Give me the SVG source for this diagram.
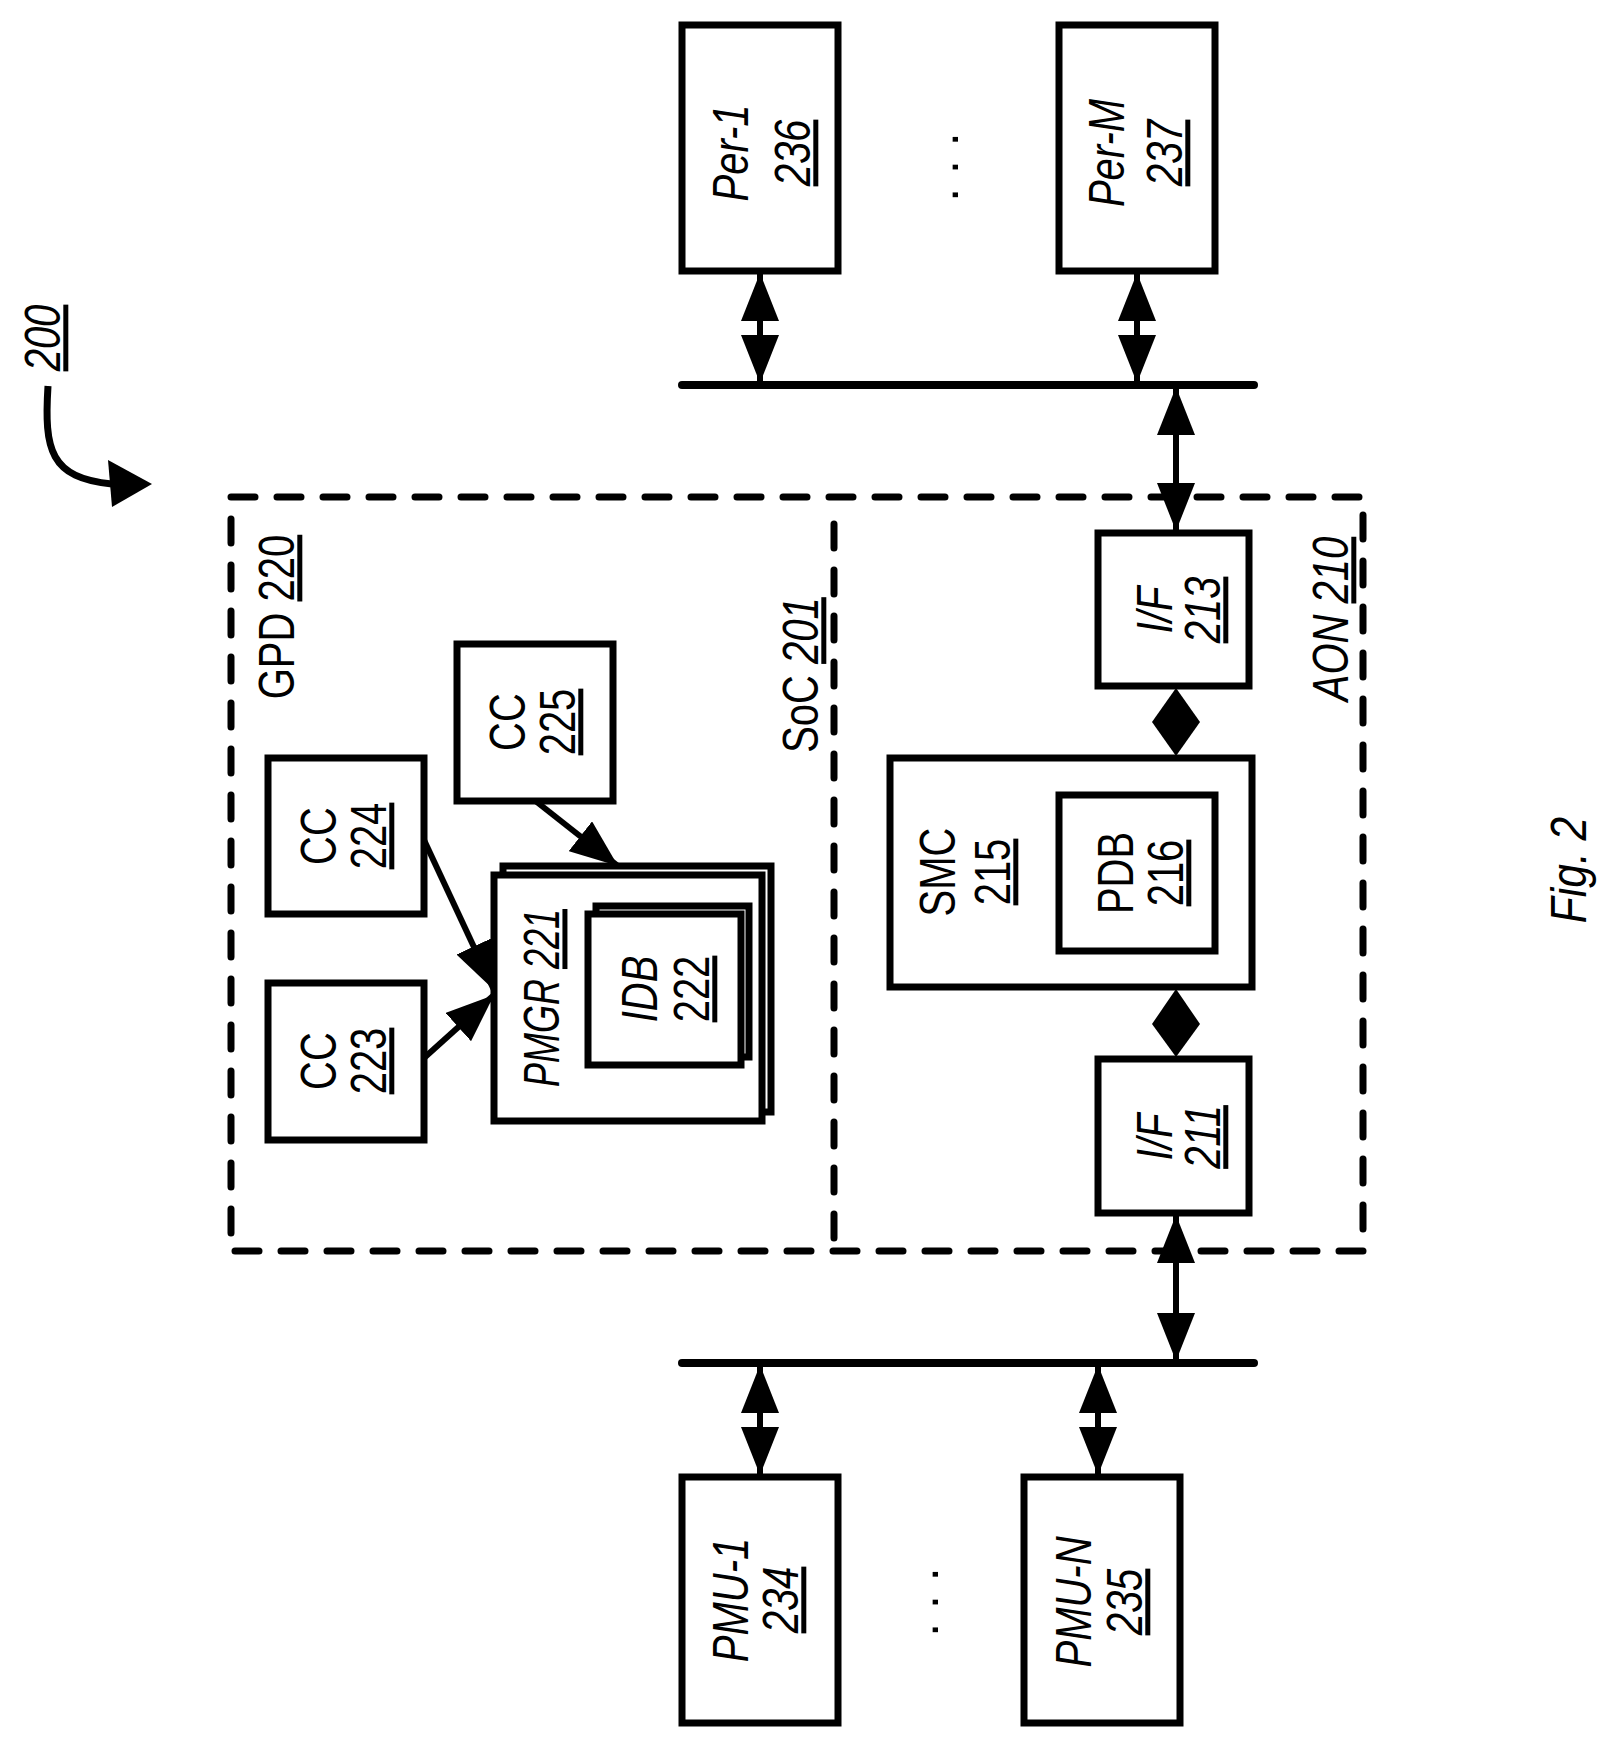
<svg xmlns="http://www.w3.org/2000/svg" width="1606" height="1738" viewBox="0 0 1606 1738">
<style>
.b{fill:#fff;stroke:#000;stroke-width:7}
.d{fill:none;stroke:#000;stroke-width:7;stroke-dasharray:24 22;stroke-linecap:round}
.l{stroke:#000;stroke-width:6;fill:none}
.bus{stroke:#000;stroke-width:8;stroke-linecap:round}
text{font-family:"Liberation Sans",Arial,sans-serif;font-size:50px;text-anchor:middle;fill:#000}
.i{font-style:italic}
.u{text-decoration:underline}
</style>
<defs>
<marker id="a" viewBox="0 0 48 38" refX="48" refY="19" markerWidth="48" markerHeight="38" markerUnits="userSpaceOnUse" orient="auto-start-reverse"><path d="M0,0L48,19L0,38Z"/></marker>
</defs>
<rect x="0" y="0" width="1606" height="1738" fill="#fff"/>
<g id="regions">
<path class="d" d="M231,497H1363V1251H231Z"/>
<path class="d" d="M834,524V1251"/>
<text transform="translate(294,617) rotate(-90) scale(0.8,1)">GPD <tspan class="u">220</tspan></text>
<text transform="translate(818,675) rotate(-90) scale(0.8,1)">SoC <tspan class="u i">201</tspan></text>
<text class="i" transform="translate(1348,619) rotate(-90) scale(0.8,1)">AON <tspan class="u">210</tspan></text>
</g>
<g id="connectors">
<line class="l" x1="760" y1="273" x2="760" y2="383" marker-start="url(#a)" marker-end="url(#a)"/>
<line class="l" x1="1137" y1="273" x2="1137" y2="383" marker-start="url(#a)" marker-end="url(#a)"/>
<line class="l" x1="1176" y1="387" x2="1176" y2="531" marker-start="url(#a)" marker-end="url(#a)"/>
<line class="l" x1="1176" y1="1215" x2="1176" y2="1361" marker-start="url(#a)" marker-end="url(#a)"/>
<line class="l" x1="760" y1="1365" x2="760" y2="1475" marker-start="url(#a)" marker-end="url(#a)"/>
<line class="l" x1="1098" y1="1365" x2="1098" y2="1475" marker-start="url(#a)" marker-end="url(#a)"/>
<polygon points="1176,688 1200,722 1176,756 1152,722"/>
<polygon points="1176,989 1200,1024 1176,1057 1152,1024"/>
<line class="l" x1="424" y1="840" x2="494" y2="990" marker-end="url(#a)"/>
<line class="l" x1="424" y1="1058" x2="494" y2="995" marker-end="url(#a)"/>
<line class="l" x1="533" y1="799" x2="618" y2="866" marker-end="url(#a)"/>
<line class="bus" x1="682" y1="385" x2="1254" y2="385"/>
<line class="bus" x1="682" y1="1363" x2="1254" y2="1363"/>
<path d="M48,386C44,450 50,478 112,484" stroke="#000" stroke-width="7" fill="none"/>
<polygon points="108,460 152,484 112,507"/>
</g>
<g id="label200"><text class="i u" transform="translate(60,338) rotate(-90) scale(0.8,1)">200</text></g>
<g id="per1"><rect class="b" x="682" y="25" width="156" height="246"/>
<text class="i" transform="translate(748,153) rotate(-90) scale(0.8,1)">Per-1<tspan class="u" x="0" y="62">236</tspan></text></g>
<g id="perM"><rect class="b" x="1059" y="25" width="156" height="246"/>
<text class="i" transform="translate(1124,153) rotate(-90) scale(0.8,1)">Per-M<tspan class="u" x="0" y="58">237</tspan></text></g>
<text font-size="36" transform="translate(958,167) rotate(-90)">. . .</text>
<g id="cc225"><rect class="b" x="457" y="644" width="156" height="157"/>
<text transform="translate(525,722) rotate(-90) scale(0.8,1)">CC<tspan class="u" x="0" y="50">225</tspan></text></g>
<g id="cc224"><rect class="b" x="268" y="758" width="156" height="156"/>
<text transform="translate(336,836) rotate(-90) scale(0.8,1)">CC<tspan class="u" x="0" y="50">224</tspan></text></g>
<g id="cc223"><rect class="b" x="268" y="983" width="156" height="157"/>
<text transform="translate(336,1061) rotate(-90) scale(0.8,1)">CC<tspan class="u" x="0" y="50">223</tspan></text></g>
<g id="pmgr"><rect class="b" x="503" y="866" width="268" height="246" stroke-width="9"/>
<rect class="b" x="494" y="875" width="268" height="246"/>
<text class="i" transform="translate(559,998) rotate(-90) scale(0.72,1)">PMGR <tspan class="u">221</tspan></text></g>
<g id="idb"><rect class="b" x="596" y="906" width="153" height="151"/>
<rect class="b" x="588" y="914" width="153" height="151"/>
<text transform="translate(657,989) rotate(-90) scale(0.8,1)"><tspan class="i">IDB</tspan><tspan class="u" x="0" y="52">222</tspan></text></g>
<g id="if213"><rect class="b" x="1098" y="533" width="151" height="153"/>
<text class="i" transform="translate(1172,610) rotate(-90) scale(0.8,1)">I/F<tspan class="u" x="0" y="48">213</tspan></text></g>
<g id="smc"><rect class="b" x="890" y="758" width="362" height="229"/>
<text transform="translate(955,872) rotate(-90) scale(0.8,1)">SMC<tspan class="u" x="0" y="55">215</tspan></text></g>
<g id="pdb"><rect class="b" x="1059" y="795" width="156" height="156"/>
<text transform="translate(1133,873) rotate(-90) scale(0.8,1)">PDB<tspan class="u" x="0" y="50">216</tspan></text></g>
<g id="if211"><rect class="b" x="1098" y="1059" width="151" height="154"/>
<text class="i" transform="translate(1172,1137) rotate(-90) scale(0.8,1)">I/F<tspan class="u" x="0" y="48">211</tspan></text></g>
<g id="pmu1"><rect class="b" x="682" y="1477" width="156" height="246"/>
<text class="i" transform="translate(748,1600) rotate(-90) scale(0.8,1)">PMU-1<tspan class="u" x="0" y="50">234</tspan></text></g>
<g id="pmuN"><rect class="b" x="1024" y="1477" width="156" height="246"/>
<text class="i" transform="translate(1091,1602) rotate(-90) scale(0.8,1)">PMU-N<tspan class="u" x="0" y="51">235</tspan></text></g>
<text font-size="36" transform="translate(938,1602) rotate(-90)">. . .</text>
<g id="fig"><text class="i" transform="translate(1586,870) rotate(-90) scale(0.85,1)" font-size="54">Fig. 2</text></g>
</svg>
